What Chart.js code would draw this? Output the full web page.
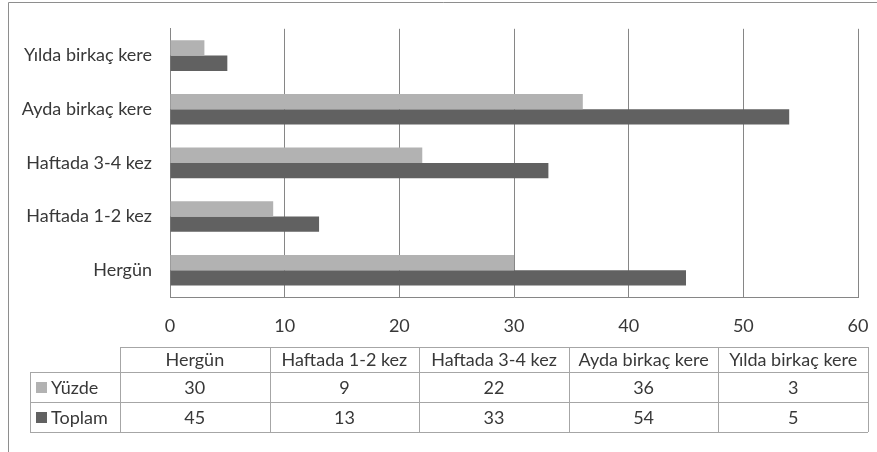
<!DOCTYPE html>
<html>
<head>
    <title>Sıklık</title>
    <script src="https://cdn.jsdelivr.net/npm/chart.js"></script>
    <style>
        html, body { margin: 0; padding: 0; background: #fff; }
        #wrap { width: 877px; height: 452px; }
    </style>
</head>
<body>
    <div id="wrap"><canvas id="freq-chart" width="877" height="452"></canvas></div>

    <script>
        // data
        const categories = ['Hergün', 'Haftada 1-2 kez', 'Haftada 3-4 kez', 'Ayda birkaç kere', 'Yılda birkaç kere'];
        const yuzde = [30, 9, 22, 36, 3];
        const toplam = [45, 13, 33, 54, 5];
        const seriesNames = ['Yüzde', 'Toplam'];
        const xTicks = [0, 10, 20, 30, 40, 50, 60];

        const FONT = 'Lato';
        const FSIZE = 18;
        const TEXT = '#383838';
        const colors = ['#b2b2b2', '#616161'];

        // outer frame + data table under the chart
        const tablePlugin = {
            id: 'dataTable',
            beforeDraw(chart) {
                const c = chart.ctx;
                c.save();
                c.strokeStyle = '#8e8e8e';
                c.lineWidth = 1;
                c.beginPath();
                c.moveTo(8.5, 460);
                c.lineTo(8.5, 2.5);
                c.lineTo(880, 2.5);
                c.stroke();
                c.restore();
            },
            afterDraw(chart) {
                const c = chart.ctx;
                const left = 120, right = 868, labelLeft = 30;
                const rows = [347, 372, 402, 432];
                const colW = (right - left) / categories.length;
                const values = [yuzde, toplam];

                c.save();
                c.strokeStyle = '#a6a6a6';
                c.lineWidth = 1;
                c.beginPath();
                // header row
                c.moveTo(left, rows[0] + 0.5); c.lineTo(right, rows[0] + 0.5);
                for (let r = 1; r < rows.length; r++) {
                    c.moveTo(labelLeft, rows[r] + 0.5); c.lineTo(right, rows[r] + 0.5);
                }
                c.moveTo(labelLeft + 0.5, rows[1]); c.lineTo(labelLeft + 0.5, rows[3]);
                for (let i = 0; i <= categories.length; i++) {
                    const x = Math.round(left + i * colW) + 0.5;
                    c.moveTo(x, rows[0]); c.lineTo(x, rows[3]);
                }
                c.stroke();

                c.fillStyle = TEXT;
                c.font = FSIZE + 'px ' + FONT;
                c.textAlign = 'center';
                c.textBaseline = 'middle';
                categories.forEach((cat, i) => {
                    const cx = left + (i + 0.5) * colW;
                    c.fillText(cat, cx, (rows[0] + rows[1]) / 2 + 1);
                    values.forEach((arr, s) => {
                        c.fillText(String(arr[i]), cx, (rows[s + 1] + rows[s + 2]) / 2 + 1);
                    });
                });

                c.textAlign = 'left';
                seriesNames.forEach((name, s) => {
                    const cy = (rows[s + 1] + rows[s + 2]) / 2;
                    c.fillStyle = colors[s];
                    c.fillRect(36, cy - 5, 11, 11);
                    c.fillStyle = TEXT;
                    c.fillText(name, 51, cy + 1);
                });
                c.restore();
            }
        };

        const ctx = document.getElementById('freq-chart').getContext('2d');
        const chart = new Chart(ctx, {
            type: 'bar',
            data: {
                labels: categories,
                datasets: [{
                    label: seriesNames[0],
                    data: yuzde,
                    backgroundColor: colors[0],
                    categoryPercentage: 0.57,
                    barPercentage: 1.0,
                }, {
                    label: seriesNames[1],
                    data: toplam,
                    backgroundColor: colors[1],
                    categoryPercentage: 0.57,
                    barPercentage: 1.0,
                }],
            },
            options: {
                indexAxis: 'y',
                responsive: false,
                animation: false,
                layout: { padding: { left: 0, top: 23, right: 19, bottom: 0 } },
                plugins: {
                    legend: { display: false },
                    tooltip: { enabled: false },
                },
                scales: {
                    x: {
                        min: 0,
                        max: 60,
                        afterBuildTicks: (scale) => { scale.ticks = xTicks.map(v => ({ value: v })); },
                        afterFit: (scale) => {
                            scale.height = 155;
                            scale.paddingLeft = 0;
                            scale.paddingRight = 0;
                        },
                        grid: { color: '#868686', drawTicks: false },
                        border: { color: '#868686' },
                        ticks: { padding: 18, color: TEXT, font: { family: FONT, size: FSIZE } },
                    },
                    y: {
                        reverse: true,
                        afterFit: (scale) => { scale.width = 170; },
                        grid: { display: false, drawTicks: false },
                        border: { color: '#868686' },
                        ticks: { padding: 18, color: TEXT, font: { family: FONT, size: FSIZE } },
                    },
                },
            },
            plugins: [tablePlugin],
        });
    </script>
</body>
</html>
